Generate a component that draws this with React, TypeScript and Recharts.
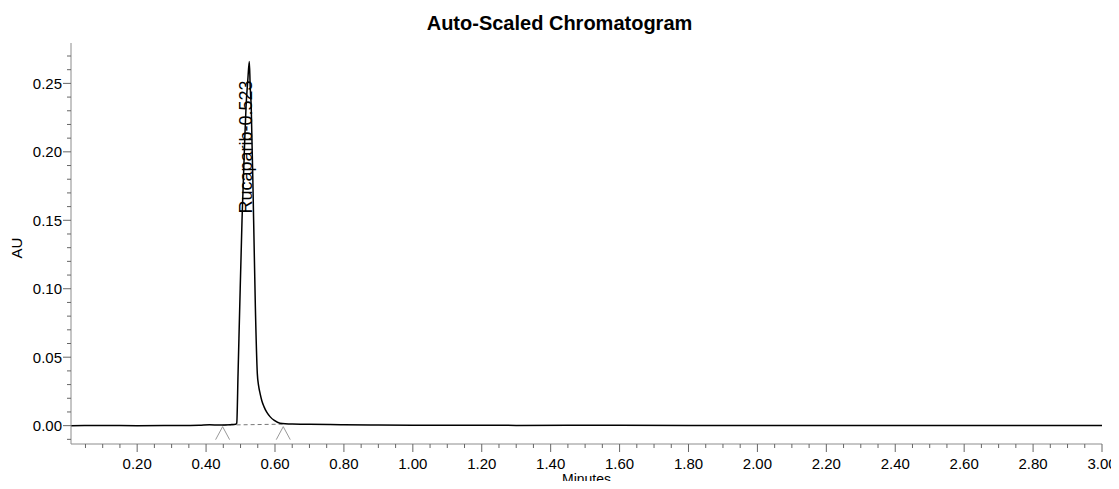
import { LineChart, Line, XAxis, YAxis, ReferenceDot, ReferenceLine } from "recharts";

// retention time (min) and detector response (AU)
const minutes = [
    0.008, 0.1, 0.2, 0.3, 0.38, 0.41, 0.44, 0.47, 0.486, 0.489, 0.4928, 0.4977, 0.5043,
    0.5122, 0.516, 0.521, 0.5255, 0.528, 0.531, 0.538, 0.543, 0.5487, 0.5525, 0.5565, 0.562,
    0.568, 0.576, 0.5855, 0.598, 0.6145, 0.65, 0.7, 0.76, 0.8, 0.9, 1.0, 1.3, 1.6, 1.8, 2.0,
    2.3, 2.6, 3.0,
];
const absorbance = [
    0.0, 0.0001, 0.0, 0.0001, 0.0003, 0.0006, 0.0004, 0.0007, 0.001, 0.0018, 0.038, 0.087,
    0.15, 0.209, 0.233, 0.252, 0.266, 0.248, 0.233, 0.15, 0.087, 0.038, 0.029, 0.0237, 0.018,
    0.0139, 0.0098, 0.0066, 0.0038, 0.0018, 0.0012, 0.001, 0.0008, 0.0006, 0.0004, 0.0003,
    0.0002, 0.0003, 0.0001, 0.0002, 0.0002, 0.0002, 0.0002,
];

const xMajorTicks = [0.2, 0.4, 0.6, 0.8, 1.0, 1.2, 1.4, 1.6, 1.8, 2.0, 2.2, 2.4, 2.6, 2.8, 3.0];
const yMajorTicks = [0.0, 0.05, 0.1, 0.15, 0.2, 0.25];

// peak annotation + integration start/end marks
const peakName = "Rucaparib";
const peakRT = 0.523;
const peakStart = 0.448;
const peakEnd = 0.624;

const X_DOMAIN = [0.008, 3.0];
const Y_DOMAIN = [-0.0134, 0.2795];

const data = minutes.map((t, i) => ({ t, au: absorbance[i] }));

const xTicks: number[] = [];
for (let i = 1; i <= 60; i++) xTicks.push(+(i * 0.05).toFixed(2));
const yTicks: number[] = [];
for (let i = -1; i <= 27; i++) yTicks.push(+(i * 0.01).toFixed(2));

const isMajor = (v: number, list: number[]) => list.some((m) => Math.abs(m - v) < 1e-6);

const AXIS = "#8c8c8c";
const TICK = "#666";

const XTick = (props: any) => {
    const { x, y, payload } = props;
    const major = isMajor(payload.value, xMajorTicks);
    return (
        <g>
            <line x1={x} x2={x} y1={y} y2={y + (major ? 8 : 4)} stroke={TICK} />
            {major && (
                <text x={x} y={y + 25} textAnchor="middle" fontSize={15} fill="#000">
                    {payload.value.toFixed(2)}
                </text>
            )}
        </g>
    );
};

const YTick = (props: any) => {
    const { x, y, payload } = props;
    const major = isMajor(payload.value, yMajorTicks);
    return (
        <g>
            <line x1={x} x2={x - (major ? 8 : 4)} y1={y} y2={y} stroke={TICK} />
            {major && (
                <text x={x - 9} y={y + 5.5} textAnchor="end" fontSize={15} fill="#000">
                    {payload.value.toFixed(2)}
                </text>
            )}
        </g>
    );
};

const Caret = (props: any) => {
    const { cx, cy } = props;
    return (
        <polyline
            points={`${cx - 7},${cy + 14} ${cx},${cy + 1} ${cx + 7},${cy + 14}`}
            fill="none"
            stroke="#999"
            strokeWidth={1}
        />
    );
};

const PeakLabel = (props: any) => {
    const { cx, cy } = props;
    const lx = cx - 2;
    return (
        <text
            x={lx}
            y={cy}
            transform={`rotate(-90 ${lx} ${cy})`}
            textAnchor="start"
            dominantBaseline="central"
            fontSize={18}
            fill="#000"
        >
            {`${peakName}-${peakRT.toFixed(3)}`}
        </text>
    );
};

export default function App() {
    return (
        <div
            style={{
                position: "relative",
                width: 1119,
                height: 489,
                margin: -8,
                overflow: "hidden",
                background: "#fff",
                fontFamily: "'Liberation Sans', Arial, sans-serif",
            }}
        >
            <div
                style={{
                    position: "absolute",
                    left: 0,
                    width: 1119,
                    top: 11,
                    textAlign: "center",
                    fontWeight: "bold",
                    fontSize: 20,
                    lineHeight: "24px",
                }}
            >
                Auto-Scaled Chromatogram
            </div>
            <div
                style={{
                    position: "absolute",
                    left: 17,
                    top: 248,
                    fontSize: 15,
                    transform: "translate(-50%, -50%) rotate(-90deg)",
                    lineHeight: "16px",
                }}
            >
                AU
            </div>
            <div
                style={{
                    position: "absolute",
                    left: 71,
                    width: 1031,
                    top: 471,
                    textAlign: "center",
                    fontSize: 14,
                    lineHeight: "17px",
                }}
            >
                Minutes
            </div>
            <LineChart
                width={1119}
                height={489}
                data={data}
                margin={{ top: 43, right: 17, bottom: 0, left: 11 }}
                style={{ fontFamily: "'Liberation Sans', Arial, sans-serif" }}
            >
                <XAxis
                    dataKey="t"
                    type="number"
                    domain={X_DOMAIN}
                    allowDataOverflow
                    ticks={xTicks}
                    interval={0}
                    tick={<XTick />}
                    tickLine={false}
                    tickSize={0}
                    tickMargin={0}
                    height={45}
                    axisLine={{ stroke: AXIS }}
                />
                <XAxis
                    xAxisId="top"
                    orientation="top"
                    type="number"
                    domain={X_DOMAIN}
                    tick={false}
                    tickLine={false}
                    height={0}
                    axisLine={{ stroke: AXIS }}
                />
                <YAxis
                    type="number"
                    domain={Y_DOMAIN}
                    allowDataOverflow
                    ticks={yTicks}
                    interval={0}
                    tick={<YTick />}
                    tickLine={false}
                    tickSize={0}
                    tickMargin={0}
                    width={60}
                    axisLine={{ stroke: AXIS }}
                />
                <YAxis
                    yAxisId="right"
                    orientation="right"
                    type="number"
                    domain={Y_DOMAIN}
                    tick={false}
                    tickLine={false}
                    width={0}
                    axisLine={{ stroke: "#999", strokeWidth: 2 }}
                />
                <ReferenceLine
                    segment={[
                        { x: peakStart, y: 0.0004 },
                        { x: peakEnd, y: 0.0011 },
                    ]}
                    stroke="#777"
                    strokeDasharray="4 3"
                    strokeWidth={1}
                />
                <Line
                    type="monotoneX"
                    dataKey="au"
                    stroke="#000"
                    strokeWidth={1.5}
                    dot={false}
                    isAnimationActive={false}
                />
                <ReferenceDot x={peakStart} y={0} r={0} shape={<Caret />} />
                <ReferenceDot x={peakEnd} y={0} r={0} shape={<Caret />} />
                <ReferenceDot x={peakRT} y={0.155} r={0} shape={<PeakLabel />} />
            </LineChart>
        </div>
    );
}
